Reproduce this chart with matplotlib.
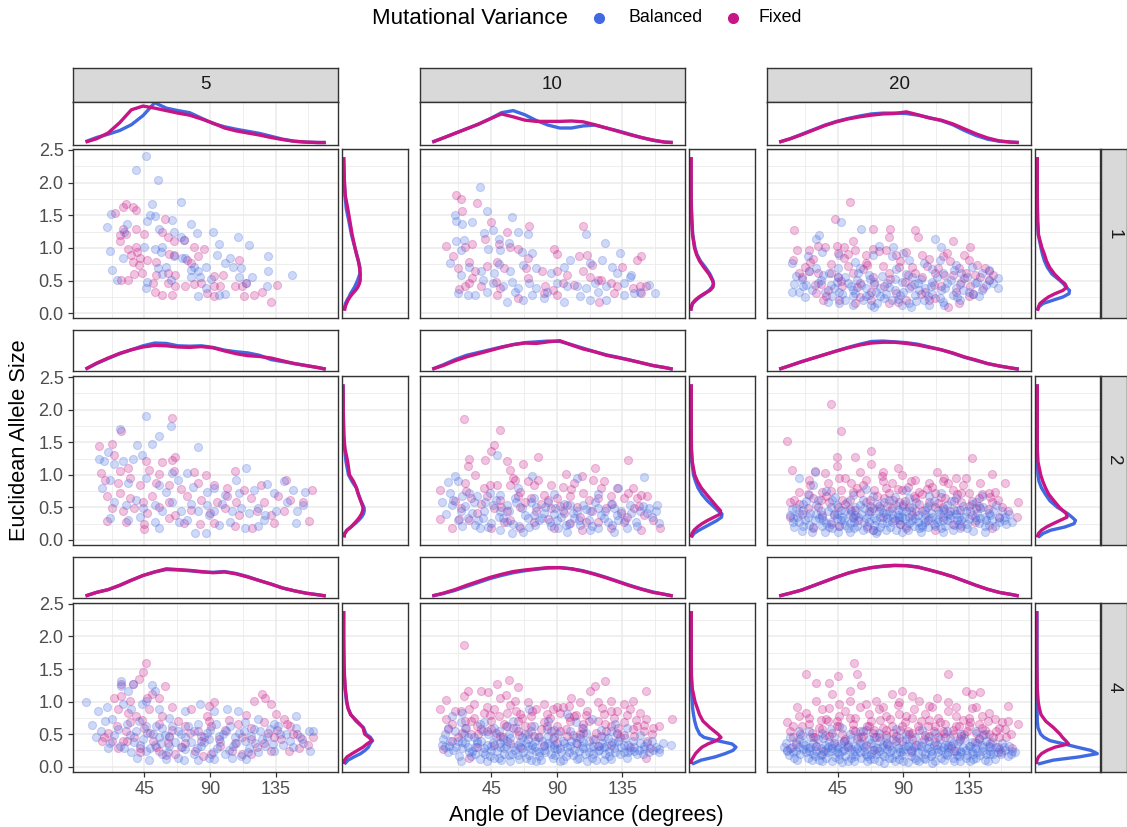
import numpy as np
import matplotlib
matplotlib.use("Agg")
import matplotlib.pyplot as plt
from matplotlib.lines import Line2D

plt.rcParams['font.family'] = ['Liberation Sans', 'DejaVu Sans']

# facet labels
row_labels = ["1", "2", "4"]
col_labels = ["5", "10", "20"]
series_names = ["Balanced", "Fixed"]
x_ticks = [45, 90, 135]
y_ticks = [0.0, 0.5, 1.0, 1.5, 2.0, 2.5]

# scatter points (angle, allele size)
pts_1_5_bal = [(46,2.40),(39,2.20),(54,2.04),(70,1.70),(50,1.67),(22,1.52),(49,1.50),(52,1.49),(47,1.41),(64,1.43),(77,1.37),(33,1.37),(19,1.32),(55,1.29),(65,1.25),(81,1.23),(92,1.25),(70,1.16),(72,1.12),(96,1.06),(109,1.17),(117,1.05),(21,0.95),(31,1.25),(45,1.02),(52,0.99),(57,1.01),(56,0.94),(30,0.84),(23,0.66),(26,0.51),(47,0.48),(46,0.38),(54,0.69),(60,0.71),(71,0.84),(77,0.66),(82,0.64),(87,0.71),(95,0.89),(100,0.77),(104,0.84),(106,0.71),(111,0.69),(110,0.56),(119,0.56),(115,0.47),(130,0.88),(130,0.65),(129,0.42),(146,0.59),(82,0.27),(96,0.28),(100,0.30),(91,0.52),(63,0.51),(57,0.60),(77,0.56),(83,0.56),(79,0.71),(73,0.85),(65,0.87),(87,0.38)]
pts_1_5_fix = [(32,1.67),(25,1.54),(30,1.63),(39,1.58),(37,1.63),(59,1.44),(30,1.29),(39,1.29),(28,1.20),(32,1.21),(45,1.22),(57,1.25),(61,1.16),(65,1.10),(72,1.12),(79,1.01),(86,0.99),(28,1.10),(34,0.99),(39,1.02),(40,0.94),(36,0.89),(42,0.84),(47,0.82),(37,0.79),(41,0.74),(53,0.79),(62,0.91),(65,0.89),(74,0.82),(82,0.87),(77,0.77),(43,0.61),(38,0.60),(53,0.59),(61,0.61),(66,0.59),(29,0.51),(34,0.51),(51,0.46),(61,0.46),(66,0.42),(73,0.41),(79,0.45),(84,0.46),(93,0.57),(99,0.59),(110,0.81),(93,0.42),(97,0.41),(107,0.41),(112,0.41),(115,0.46),(136,0.43),(126,0.33),(120,0.28),(113,0.27),(132,0.17),(52,0.33),(57,0.28),(64,0.28),(88,0.31),(93,0.26)]
pts_1_10_bal = [(37,1.93),(20,1.51),(42,1.56),(21,1.41),(25,1.37),(32,1.39),(59,1.47),(40,1.23),(46,1.27),(63,1.24),(70,1.22),(110,1.22),(123,1.08),(21,1.11),(26,1.12),(50,1.13),(57,1.07),(133,0.93),(24,0.97),(43,0.99),(51,0.97),(66,0.94),(73,0.92),(17,0.77),(24,0.59),(30,0.71),(38,0.64),(50,0.76),(58,0.64),(67,0.74),(76,0.69),(86,0.61),(95,0.71),(99,0.82),(113,0.77),(121,0.82),(128,0.71),(131,0.61),(141,0.59),(39,0.51),(46,0.46),(53,0.41),(59,0.48),(63,0.38),(71,0.46),(76,0.38),(90,0.46),(97,0.41),(104,0.41),(110,0.38),(116,0.46),(118,0.33),(124,0.41),(136,0.46),(140,0.56),(147,0.33),(153,0.43),(157,0.31),(22,0.31),(29,0.28),(34,0.28),(42,0.33),(56,0.18),(67,0.20),(73,0.28),(81,0.23),(95,0.18),(106,0.26),(113,0.20),(124,0.20),(136,0.28),(143,0.31),(61,0.33),(83,0.33),(47,0.61)]
pts_1_10_fix = [(21,1.81),(24,1.75),(35,1.69),(25,1.56),(45,1.40),(56,1.25),(71,1.34),(108,1.34),(14,1.03),(19,0.88),(27,1.02),(32,1.06),(41,1.13),(50,1.06),(58,1.02),(63,0.99),(88,0.98),(90,0.91),(105,0.87),(111,0.89),(148,0.87),(145,0.81),(22,0.69),(30,0.79),(34,0.64),(42,0.72),(49,0.79),(54,0.69),(70,0.84),(69,0.69),(80,0.64),(90,0.64),(97,0.59),(108,0.64),(114,0.74),(135,0.71),(120,0.51),(27,0.41),(32,0.54),(38,0.41),(48,0.48),(51,0.38),(70,0.54),(82,0.41),(87,0.36),(94,0.46),(102,0.43),(113,0.56),(118,0.51),(127,0.46),(131,0.41),(142,0.38),(147,0.41),(151,0.41),(23,0.37),(49,0.28),(63,0.23),(81,0.31),(90,0.28),(119,0.18),(129,0.31),(148,0.31),(30,0.46)]
pts_1_20_bal = [(47,1.40),(61,1.29),(73,1.03),(112,1.13),(32,1.20),(30,1.13),(90,0.93),(83,1.02),(116,1.01),(13,0.77),(16,0.57),(13,0.33),(23,0.43),(24,0.87),(34,0.94),(46,0.89),(57,0.79),(69,0.89),(82,0.87),(94,0.82),(104,0.77),(115,0.82),(126,0.74),(137,0.71),(149,0.66),(155,0.54),(155,0.38),(149,0.51),(25,0.64),(33,0.51),(39,0.61),(44,0.48),(50,0.56),(54,0.41),(58,0.51),(64,0.38),(70,0.48),(74,0.38),(79,0.46),(84,0.36),(89,0.48),(94,0.38),(100,0.46),(105,0.38),(110,0.48),(116,0.36),(120,0.46),(126,0.38),(130,0.48),(139,0.46),(144,0.36),(36,0.33),(41,0.26),(46,0.33),(50,0.20),(57,0.31),(62,0.21),(66,0.28),(72,0.16),(78,0.30),(82,0.20),(88,0.28),(94,0.15),(98,0.28),(104,0.20),(110,0.30),(117,0.18),(124,0.28),(129,0.20),(135,0.33),(142,0.26),(46,0.15),(68,0.13),(89,0.13),(108,0.13),(40,0.43),(66,0.59),(96,0.56),(117,0.61),(21,0.41),(130,0.61),(18,0.33),(144,0.61),(74,0.26),(101,0.36),(55,0.26)]
pts_1_20_bal += [(15,0.45),(20,0.52),(22,0.25),(27,0.35),(31,0.47),(35,0.58),(38,0.18),(42,0.38),(45,0.55),(48,0.29),(52,0.47),(55,0.36),(59,0.62),(61,0.43),(64,0.27),(67,0.52),(71,0.33),(75,0.57),(77,0.23),(80,0.40),(84,0.52),(86,0.22),(90,0.33),(92,0.60),(97,0.45),(99,0.19),(102,0.52),(107,0.27),(109,0.42),(113,0.55),(115,0.24),(119,0.38),(123,0.51),(127,0.25),(131,0.36),(134,0.55),(138,0.30),(141,0.48),(147,0.43),(152,0.47),(60,0.70),(85,0.68),(110,0.68),(45,0.70),(125,0.66),(30,0.70),(70,0.10),(95,0.10),(118,0.12),(55,0.12)]
pts_1_20_fix = [(53,1.71),(43,1.44),(15,1.27),(69,1.29),(81,1.29),(80,1.17),(98,1.28),(100,1.17),(124,1.10),(136,1.01),(132,0.89),(17,0.97),(14,0.82),(22,0.71),(31,1.03),(25,0.97),(36,1.01),(44,1.03),(49,1.01),(55,1.10),(57,0.97),(64,0.89),(69,0.98),(78,0.97),(85,0.89),(92,0.94),(103,0.89),(108,0.83),(117,0.87),(120,0.93),(135,0.82),(141,0.74),(146,0.69),(149,0.64),(128,0.69),(114,0.69),(96,0.71),(87,0.71),(76,0.72),(65,0.74),(52,0.72),(40,0.76),(28,0.83),(18,0.61),(31,0.61),(45,0.56),(55,0.61),(69,0.56),(80,0.61),(93,0.59),(103,0.56),(112,0.61),(124,0.59),(132,0.54),(139,0.59),(149,0.51),(29,0.43),(38,0.36),(48,0.41),(60,0.46),(68,0.33),(77,0.41),(85,0.31),(95,0.41),(105,0.33),(116,0.41),(126,0.33),(136,0.41),(145,0.38),(30,0.31),(46,0.20),(57,0.15),(68,0.21),(80,0.15),(92,0.20),(108,0.21),(121,0.10),(135,0.26),(37,0.26),(64,0.77),(49,0.84),(25,0.64)]
pts_1_20_fix += [(20,0.55),(26,0.78),(33,0.45),(40,0.62),(47,0.50),(52,0.90),(58,0.40),(62,0.68),(70,0.45),(73,0.95),(81,0.52),(88,0.80),(91,0.48),(98,0.62),(102,0.30),(106,0.72),(111,0.44),(118,0.58),(122,0.80),(129,0.45),(133,0.62),(138,0.30),(143,0.55),(152,0.58),(35,0.20),(60,0.25),(86,0.18),(112,0.24),(128,0.16),(45,0.92)]
pts_2_5_bal = [(46,1.91),(63,1.75),(55,1.59),(50,1.48),(40,1.46),(82,1.42),(28,1.70),(20,1.35),(14,1.25),(17,1.21),(24,1.17),(30,1.22),(37,1.24),(43,1.30),(64,1.03),(74,1.03),(115,1.10),(108,0.92),(16,0.80),(21,0.92),(34,0.87),(46,0.95),(55,0.85),(60,0.74),(68,0.92),(78,0.82),(88,0.74),(93,0.80),(100,0.69),(110,0.72),(120,0.77),(129,0.86),(134,0.72),(141,0.90),(147,0.77),(155,0.74),(24,0.59),(32,0.54),(39,0.62),(44,0.49),(52,0.54),(57,0.44),(64,0.59),(70,0.44),(77,0.56),(82,0.44),(88,0.54),(93,0.44),(98,0.56),(105,0.44),(111,0.49),(117,0.41),(123,0.49),(128,0.39),(135,0.44),(143,0.59),(150,0.44),(154,0.54),(21,0.33),(34,0.31),(42,0.36),(55,0.19),(69,0.28),(74,0.31),(80,0.10),(87,0.10),(96,0.23),(104,0.28),(114,0.18),(123,0.21),(127,0.31),(149,0.26),(52,0.28),(89,0.39)]
pts_2_5_fix = [(64,1.88),(29,1.67),(14,1.45),(23,1.48),(24,1.30),(46,1.21),(57,1.20),(64,1.23),(66,1.28),(15,1.03),(28,1.06),(34,1.10),(48,1.08),(55,1.01),(65,1.06),(79,1.04),(87,1.00),(107,1.06),(142,0.92),(18,0.92),(27,0.87),(35,0.95),(42,0.85),(53,0.87),(62,0.85),(70,0.79),(82,0.87),(93,0.85),(102,0.80),(113,0.77),(125,0.85),(19,0.67),(28,0.72),(35,0.64),(44,0.59),(50,0.67),(62,0.59),(74,0.67),(84,0.62),(95,0.59),(102,0.67),(108,0.59),(118,0.64),(127,0.59),(137,0.67),(145,0.62),(160,0.77),(154,0.59),(23,0.49),(30,0.44),(38,0.49),(47,0.41),(55,0.51),(66,0.39),(77,0.46),(90,0.41),(100,0.49),(110,0.39),(122,0.44),(132,0.39),(141,0.44),(19,0.29),(32,0.28),(45,0.24),(62,0.33),(72,0.26),(83,0.24),(93,0.26),(107,0.22),(119,0.18),(134,0.26),(158,0.29),(45,0.17)]
pts_2_10_bal = [(49,1.31),(20,0.98),(15,0.89),(22,0.91),(73,0.98),(104,0.95),(150,0.96),(11,0.59),(17,0.72),(25,0.67),(18,0.54),(24,0.44),(30,0.72),(35,0.67),(41,0.59),(46,0.54),(51,0.69),(56,0.54),(61,0.64),(66,0.49),(72,0.59),(76,0.51),(81,0.41),(84,0.59),(89,0.49),(94,0.44),(99,0.54),(104,0.44),(108,0.54),(113,0.44),(118,0.49),(123,0.44),(129,0.49),(132,0.80),(140,0.54),(147,0.44),(153,0.49),(159,0.54),(29,0.33),(34,0.23),(39,0.33),(45,0.26),(50,0.36),(56,0.28),(59,0.10),(64,0.21),(70,0.33),(75,0.23),(80,0.33),(86,0.21),(90,0.31),(96,0.23),(102,0.33),(106,0.23),(112,0.31),(118,0.18),(122,0.33),(128,0.23),(132,0.31),(138,0.18),(144,0.28),(152,0.41),(160,0.26),(37,0.18),(51,0.15),(67,0.13),(97,0.13),(113,0.15),(129,0.13),(32,0.41),(51,0.44),(74,0.38),(93,0.36),(131,0.39),(25,0.21)]
pts_2_10_bal += [(14,0.40),(19,0.62),(22,0.30),(27,0.52),(33,0.58),(36,0.30),(40,0.45),(43,0.20),(48,0.62),(53,0.33),(57,0.45),(60,0.24),(62,0.58),(68,0.38),(71,0.20),(74,0.65),(78,0.30),(82,0.50),(85,0.27),(88,0.40),(91,0.18),(95,0.55),(98,0.25),(101,0.42),(105,0.30),(110,0.47),(114,0.22),(116,0.58),(120,0.38),(125,0.28),(127,0.55),(134,0.45),(137,0.30),(141,0.42),(145,0.22),(149,0.52),(155,0.35),(158,0.45),(63,0.80),(44,0.72),(88,0.70),(118,0.70)]
pts_2_10_fix = [(26,1.86),(51,1.69),(47,1.46),(45,1.36),(77,1.27),(30,1.24),(56,1.22),(67,1.17),(41,1.23),(139,1.23),(116,1.10),(107,0.99),(29,1.13),(34,1.00),(58,1.08),(61,0.92),(70,0.90),(10,0.77),(27,0.87),(40,0.80),(49,0.85),(58,0.85),(65,0.74),(74,0.85),(86,0.85),(94,0.82),(102,0.87),(115,0.92),(122,0.90),(131,0.80),(142,0.80),(148,0.69),(31,0.64),(42,0.67),(51,0.62),(63,0.67),(72,0.64),(81,0.69),(90,0.64),(99,0.67),(108,0.72),(118,0.64),(127,0.67),(136,0.64),(145,0.64),(24,0.49),(35,0.41),(47,0.49),(56,0.44),(65,0.51),(76,0.44),(86,0.49),(95,0.41),(104,0.51),(114,0.44),(124,0.49),(134,0.41),(143,0.49),(150,0.39),(10,0.32),(18,0.19),(23,0.32),(45,0.19),(54,0.28),(65,0.18),(74,0.28),(88,0.18),(99,0.26),(107,0.15),(118,0.28),(127,0.19),(136,0.28),(148,0.15),(156,0.31),(161,0.18),(97,0.54),(79,0.56)]
pts_2_10_fix += [(20,0.60),(28,0.75),(38,0.55),(44,0.85),(52,0.50),(60,0.95),(68,0.58),(77,0.92),(84,0.62),(92,0.52),(100,0.78),(106,0.35),(112,0.62),(120,0.80),(128,0.55),(139,0.72),(146,0.52),(152,0.68),(30,0.30),(58,0.30),(84,0.32),(110,0.28),(138,0.35),(96,1.02)]
pts_2_20_bal = [(29,1.05),(18,0.95),(12,0.39),(14,0.28),(18,0.28),(21,0.46),(25,0.69),(30,0.54),(32,0.33),(34,0.21),(38,0.44),(40,0.28),(44,0.54),(45,0.13),(48,0.36),(50,0.23),(54,0.44),(56,0.28),(60,0.54),(62,0.15),(64,0.33),(68,0.44),(70,0.23),(72,0.56),(74,0.36),(78,0.15),(80,0.44),(82,0.28),(85,0.54),(87,0.36),(89,0.13),(92,0.44),(94,0.26),(96,0.51),(98,0.33),(101,0.18),(103,0.44),(105,0.28),(108,0.54),(110,0.36),(112,0.21),(114,0.46),(117,0.31),(120,0.54),(122,0.39),(125,0.23),(127,0.46),(130,0.31),(134,0.18),(136,0.44),(140,0.31),(143,0.49),(146,0.36),(149,0.23),(152,0.44),(156,0.28),(160,0.36),(165,0.28),(41,0.62),(55,0.69),(69,0.67),(80,0.62),(94,0.64),(108,0.67),(126,0.64),(140,0.59),(28,0.85),(21,0.56),(25,0.23),(44,0.33),(57,0.39),(63,0.49),(74,0.49),(79,0.28),(89,0.36),(103,0.23),(117,0.13),(128,0.36),(53,0.13),(71,0.10),(146,0.13),(16,0.49)]
pts_2_20_bal += [(13,0.48),(15,0.20),(17,0.36),(20,0.14),(22,0.30),(23,0.60),(26,0.42),(27,0.12),(29,0.30),(31,0.62),(33,0.45),(35,0.30),(36,0.12),(39,0.20),(40,0.50),(42,0.38),(43,0.66),(46,0.22),(47,0.46),(49,0.30),(51,0.58),(52,0.18),(55,0.34),(57,0.50),(58,0.22),(61,0.40),(62,0.62),(65,0.18),(66,0.27),(67,0.52),(70,0.34),(72,0.14),(73,0.45),(75,0.26),(77,0.58),(78,0.40),(81,0.20),(83,0.34),(84,0.66),(86,0.46),(88,0.24),(90,0.55),(91,0.32),(93,0.16),(95,0.44),(97,0.22),(99,0.58),(100,0.38),(102,0.12),(104,0.32),(106,0.50),(107,0.20),(109,0.42),(111,0.60),(113,0.28),(115,0.40),(116,0.18),(118,0.48),(120,0.30),(123,0.60),(124,0.16),(126,0.40),(128,0.25),(131,0.52),(132,0.36),(134,0.24),(137,0.56),(138,0.14),(141,0.42),(142,0.26),(145,0.50),(147,0.30),(150,0.38),(153,0.22),(154,0.54),(158,0.44),(161,0.24),(163,0.40),(37,0.75),(64,0.78),(92,0.76),(116,0.72),(144,0.68),(53,0.40),(86,0.38),(121,0.40)]
pts_2_20_bal += [(14,0.34),(18,0.42),(21,0.22),(24,0.36),(28,0.20),(30,0.40),(34,0.36),(37,0.26),(41,0.18),(44,0.40),(47,0.30),(50,0.44),(53,0.26),(56,0.18),(59,0.36),(63,0.28),(66,0.40),(69,0.16),(71,0.30),(74,0.20),(76,0.42),(79,0.34),(82,0.40),(85,0.16),(87,0.30),(89,0.44),(92,0.22),(94,0.36),(96,0.30),(100,0.28),(103,0.20),(105,0.40),(108,0.34),(111,0.24),(114,0.32),(117,0.44),(119,0.22),(122,0.34),(125,0.46),(127,0.30),(129,0.18),(133,0.44),(135,0.32),(139,0.36),(143,0.34),(146,0.22),(149,0.42),(151,0.30),(156,0.34),(159,0.30)]
pts_2_20_fix = [(40,2.09),(10,1.52),(47,1.67),(68,1.36),(44,1.28),(57,1.27),(44,1.13),(13,1.08),(29,1.06),(137,1.26),(68,1.16),(60,1.05),(86,1.10),(89,1.00),(113,1.05),(151,1.01),(160,0.87),(126,0.95),(121,0.87),(133,0.95),(36,1.03),(50,0.95),(76,0.90),(98,0.92),(108,0.87),(25,0.92),(38,0.87),(54,0.87),(64,0.92),(82,0.87),(93,0.82),(117,0.90),(143,0.87),(153,0.74),(169,0.59),(12,0.59),(18,0.74),(34,0.74),(47,0.77),(60,0.72),(70,0.77),(80,0.72),(89,0.77),(101,0.74),(112,0.72),(124,0.77),(135,0.72),(149,0.72),(158,0.51),(168,0.36),(28,0.64),(39,0.59),(53,0.62),(64,0.59),(77,0.64),(87,0.59),(98,0.64),(108,0.59),(119,0.64),(130,0.59),(142,0.64),(151,0.59),(24,0.49),(45,0.51),(57,0.46),(69,0.49),(82,0.49),(94,0.51),(105,0.46),(117,0.51),(129,0.46),(140,0.49),(34,0.39),(55,0.36),(76,0.36),(96,0.39),(117,0.36),(137,0.39),(28,0.18),(46,0.21),(69,0.15),(92,0.18),(112,0.15),(130,0.21),(151,0.18),(12,0.36),(156,0.36),(76,1.05)]
pts_2_20_fix += [(15,0.62),(20,0.40),(26,0.85),(31,0.50),(37,0.68),(42,0.40),(46,0.95),(50,0.55),(55,0.74),(59,0.30),(62,0.85),(66,0.45),(72,0.68),(75,0.98),(79,0.52),(84,0.30),(86,0.78),(91,0.60),(95,0.90),(99,0.45),(103,0.70),(107,0.30),(110,0.82),(114,0.57),(118,0.95),(122,0.45),(127,0.70),(131,0.85),(135,0.52),(139,0.28),(144,0.70),(148,0.48),(155,0.62),(162,0.45),(40,0.25),(65,0.22),(88,0.24),(124,0.25)]
pts_2_20_fix += [(18,0.55),(24,0.70),(33,0.62),(40,0.75),(48,0.62),(53,0.48),(58,0.80),(67,0.62),(73,0.52),(78,0.80),(83,0.62),(90,0.52),(97,0.68),(101,0.55),(106,0.78),(112,0.50),(116,0.66),(125,0.60),(130,0.72),(137,0.60),(142,0.52),(150,0.66)]
pts_4_5_bal = [(5,0.99),(9,0.64),(13,0.86),(19,0.91),(12,0.45),(20,0.29),(21,0.37),(29,1.32),(29,1.24),(37,1.27),(34,1.17),(50,1.25),(52,1.17),(46,1.01),(23,0.73),(30,0.96),(36,0.88),(43,0.96),(55,0.88),(62,0.75),(73,0.86),(83,0.96),(93,0.86),(102,0.88),(109,0.86),(114,0.68),(123,0.73),(134,0.65),(149,0.78),(149,0.60),(158,0.55),(161,0.55),(159,0.24),(154,0.37),(33,0.65),(39,0.55),(46,0.63),(51,0.50),(57,0.60),(62,0.47),(68,0.55),(73,0.45),(79,0.55),(84,0.47),(90,0.57),(96,0.47),(101,0.55),(107,0.45),(113,0.55),(118,0.47),(124,0.55),(129,0.45),(138,0.50),(145,0.40),(28,0.32),(36,0.22),(42,0.34),(46,0.24),(52,0.34),(57,0.19),(62,0.32),(68,0.14),(73,0.27),(79,0.19),(84,0.32),(89,0.14),(95,0.29),(100,0.19),(106,0.32),(111,0.16),(117,0.29),(123,0.22),(128,0.32),(134,0.24),(140,0.34),(48,0.11),(82,0.11),(105,0.14),(72,0.11),(55,0.45),(89,0.42)]
pts_4_5_bal += [(15,0.55),(18,0.70),(24,0.48),(27,0.58),(31,0.28),(35,0.48),(38,0.38),(41,0.70),(44,0.42),(47,0.52),(49,0.28),(53,0.62),(56,0.36),(59,0.48),(61,0.22),(64,0.62),(66,0.38),(70,0.50),(71,0.30),(75,0.62),(77,0.38),(81,0.28),(82,0.66),(86,0.38),(88,0.52),(92,0.22),(94,0.66),(97,0.38),(99,0.50),(103,0.26),(104,0.62),(108,0.36),(110,0.52),(114,0.40),(116,0.22),(120,0.58),(121,0.36),(126,0.42),(131,0.58),(133,0.35),(137,0.62),(142,0.50),(147,0.30),(152,0.45),(60,0.12),(93,0.12),(115,0.12),(40,0.14)]
pts_4_5_fix = [(46,1.59),(44,1.45),(41,1.34),(37,1.27),(29,1.27),(59,1.24),(50,1.11),(47,1.06),(24,1.06),(29,1.09),(35,1.01),(55,1.06),(64,0.91),(77,0.88),(89,0.93),(93,0.99),(88,0.78),(120,1.01),(126,1.12),(128,1.06),(132,0.96),(135,0.81),(39,0.78),(48,0.88),(34,0.83),(26,0.63),(17,0.45),(23,0.40),(27,0.29),(35,0.68),(45,0.60),(55,0.65),(64,0.57),(73,0.63),(82,0.55),(91,0.63),(100,0.57),(109,0.65),(118,0.60),(127,0.68),(136,0.57),(145,0.63),(141,0.73),(143,0.65),(150,0.50),(161,0.45),(151,0.29),(157,0.34),(33,0.40),(42,0.29),(51,0.40),(62,0.45),(73,0.37),(84,0.40),(96,0.42),(107,0.37),(118,0.42),(127,0.37),(134,0.45),(42,0.22),(55,0.24),(66,0.19),(80,0.24),(91,0.19),(105,0.24),(118,0.19),(132,0.24),(144,0.24),(16,0.40),(30,0.40)]
pts_4_5_fix += [(20,0.52),(27,0.88),(32,0.55),(38,0.46),(43,0.72),(49,0.52),(53,0.30),(57,0.78),(61,0.36),(68,0.70),(70,0.30),(76,0.52),(86,0.45),(89,0.70),(97,0.32),(103,0.72),(112,0.45),(115,0.80),(122,0.30),(130,0.52),(139,0.42),(147,0.50),(153,0.42),(60,0.18),(85,0.16),(112,0.20)]
pts_4_10_bal = [(11,0.34),(13,0.50),(15,0.60),(18,0.78),(25,0.83),(24,0.68),(25,0.29),(29,0.45),(32,0.24),(35,0.37),(39,0.55),(41,0.19),(45,0.32),(48,0.45),(50,0.14),(54,0.29),(57,0.50),(59,0.19),(63,0.34),(66,0.45),(69,0.14),(72,0.27),(75,0.40),(78,0.16),(81,0.32),(84,0.47),(87,0.14),(90,0.27),(94,0.40),(96,0.16),(99,0.32),(103,0.45),(105,0.14),(108,0.29),(112,0.40),(115,0.19),(119,0.32),(122,0.45),(126,0.16),(129,0.29),(132,0.40),(136,0.22),(139,0.34),(143,0.24),(147,0.37),(150,0.27),(160,0.27),(168,0.34),(37,0.65),(56,0.63),(71,0.88),(97,0.81),(114,0.73),(108,0.60),(127,0.55),(138,0.60),(88,0.57),(72,0.55),(47,0.60),(34,0.19),(42,0.09),(58,0.09),(76,0.09),(92,0.09),(111,0.09),(122,0.11),(24,0.09),(51,0.37),(88,0.34),(70,0.32),(124,0.32),(26,0.50)]
pts_4_10_bal += [(12,0.42),(15,0.22),(17,0.40),(20,0.55),(21,0.30),(23,0.17),(27,0.36),(28,0.60),(30,0.22),(33,0.46),(34,0.30),(37,0.12),(38,0.40),(40,0.28),(43,0.50),(44,0.17),(46,0.38),(49,0.24),(50,0.55),(52,0.10),(53,0.42),(55,0.32),(57,0.18),(58,0.44),(61,0.26),(62,0.60),(64,0.12),(65,0.38),(67,0.22),(68,0.50),(70,0.42),(71,0.18),(73,0.34),(74,0.62),(76,0.24),(77,0.46),(79,0.10),(80,0.40),(82,0.22),(83,0.58),(85,0.33),(87,0.42),(89,0.18),(91,0.50),(92,0.28),(94,0.10),(95,0.36),(98,0.22),(99,0.55),(100,0.40),(102,0.26),(104,0.12),(106,0.44),(107,0.32),(109,0.20),(110,0.52),(113,0.30),(114,0.14),(116,0.42),(118,0.24),(120,0.56),(121,0.36),(123,0.20),(125,0.44),(127,0.12),(128,0.38),(130,0.22),(131,0.50),(134,0.30),(137,0.44),(138,0.14),(140,0.26),(142,0.40),(145,0.20),(147,0.48),(150,0.32),(153,0.22),(155,0.40),(158,0.30),(163,0.36),(60,0.70),(84,0.70),(40,0.68),(103,0.68),(130,0.65)]
pts_4_10_bal += [(13,0.30),(16,0.32),(19,0.26),(22,0.40),(25,0.38),(29,0.30),(31,0.16),(35,0.40),(39,0.22),(42,0.34),(45,0.26),(47,0.14),(51,0.30),(54,0.20),(56,0.40),(60,0.30),(63,0.18),(66,0.28),(69,0.36),(72,0.10),(75,0.30),(78,0.22),(81,0.26),(84,0.36),(86,0.20),(88,0.28),(93,0.22),(97,0.30),(101,0.18),(103,0.36),(105,0.24),(108,0.38),(112,0.22),(115,0.32),(117,0.10),(119,0.26),(122,0.30),(126,0.24),(129,0.36),(133,0.20),(136,0.34),(139,0.22),(143,0.30),(146,0.26),(149,0.20),(152,0.36),(156,0.26),(160,0.22)]
pts_4_10_fix = [(26,1.87),(57,1.33),(49,1.27),(63,1.23),(123,1.32),(116,1.24),(113,1.17),(151,1.17),(29,1.17),(38,1.17),(43,1.14),(14,1.02),(10,0.88),(14,0.73),(12,0.27),(18,0.40),(26,1.09),(33,0.96),(51,1.06),(61,1.01),(70,0.99),(81,0.97),(90,0.91),(98,0.93),(106,0.99),(118,0.99),(127,1.01),(136,0.96),(142,1.01),(140,0.88),(151,0.73),(156,0.60),(169,0.74),(150,0.55),(24,0.86),(30,0.88),(40,0.83),(47,0.88),(56,0.83),(65,0.81),(73,0.86),(83,0.81),(92,0.83),(102,0.78),(111,0.86),(122,0.81),(131,0.86),(27,0.70),(35,0.63),(45,0.70),(54,0.65),(63,0.70),(72,0.63),(81,0.68),(90,0.63),(99,0.70),(108,0.65),(118,0.70),(127,0.63),(136,0.68),(145,0.63),(31,0.50),(42,0.55),(51,0.47),(63,0.55),(74,0.47),(86,0.55),(97,0.47),(108,0.52),(120,0.47),(131,0.52),(143,0.47),(152,0.40),(154,0.29),(151,0.14),(30,0.14),(47,0.34),(58,0.37),(81,0.34),(104,0.37),(127,0.34)]
pts_4_10_fix += [(15,0.58),(20,0.85),(22,0.45),(27,0.60),(33,0.75),(36,0.50),(42,0.92),(45,0.58),(50,0.78),(53,0.45),(58,0.95),(60,0.60),(66,0.75),(70,0.50),(76,0.88),(79,0.58),(85,0.75),(88,0.45),(94,0.92),(96,0.58),(103,0.80),(106,0.50),(112,0.70),(115,0.42),(121,0.90),(124,0.55),(129,0.75),(133,0.45),(138,0.80),(142,0.58),(147,0.82),(155,0.50),(160,0.62),(35,0.30),(65,0.30),(90,0.36),(118,0.32),(140,0.30),(55,1.10),(100,1.05)]
pts_4_10_fix += [(18,0.65),(25,0.52),(31,0.70),(38,0.58),(44,0.80),(48,0.52),(55,0.62),(62,0.85),(64,0.48),(68,0.62),(72,0.78),(78,0.45),(83,0.62),(87,0.88),(92,0.55),(98,0.76),(101,0.48),(107,0.60),(110,0.80),(117,0.52),(123,0.66),(127,0.86),(132,0.60),(136,0.48),(144,0.72),(150,0.64)]
pts_4_20_bal = [(9,0.37),(10,0.24),(15,0.14),(18,0.42),(21,0.27),(24,0.14),(28,0.37),(30,0.24),(32,0.11),(36,0.34),(38,0.22),(41,0.09),(44,0.32),(46,0.19),(49,0.40),(52,0.09),(54,0.27),(57,0.16),(60,0.37),(63,0.24),(65,0.09),(69,0.32),(71,0.19),(74,0.40),(77,0.06),(79,0.27),(82,0.14),(85,0.34),(88,0.22),(90,0.09),(94,0.37),(96,0.24),(99,0.11),(102,0.32),(105,0.19),(108,0.40),(110,0.06),(113,0.27),(116,0.14),(119,0.34),(121,0.22),(125,0.09),(127,0.37),(129,0.24),(133,0.14),(135,0.32),(138,0.19),(141,0.37),(144,0.24),(146,0.11),(149,0.32),(152,0.19),(156,0.27),(162,0.16),(165,0.24),(18,0.55),(34,0.52),(53,0.50),(73,0.52),(92,0.50),(112,0.52),(130,0.50),(146,0.50),(48,0.60),(64,0.57),(103,0.57),(34,0.19),(48,0.24),(68,0.19),(90,0.27),(109,0.24),(128,0.16),(150,0.19),(25,0.24),(16,0.24),(79,0.37),(121,0.34),(57,0.32),(41,0.29),(137,0.24)]
pts_4_20_bal += [(8,0.30),(11,0.18),(12,0.46),(13,0.30),(16,0.38),(17,0.10),(19,0.20),(20,0.48),(22,0.34),(23,0.22),(26,0.30),(26,0.46),(27,0.10),(29,0.16),(31,0.42),(33,0.28),(34,0.08),(35,0.44),(37,0.14),(39,0.38),(40,0.24),(42,0.45),(43,0.15),(45,0.28),(47,0.36),(48,0.07),(50,0.16),(51,0.30),(53,0.42),(55,0.20),(56,0.08),(58,0.28),(59,0.45),(61,0.14),(62,0.34),(64,0.20),(66,0.42),(67,0.12),(69,0.26),(70,0.46),(72,0.28),(73,0.09),(75,0.20),(76,0.34),(78,0.44),(80,0.14),(81,0.22),(83,0.42),(84,0.08),(86,0.28),(87,0.44),(89,0.18),(91,0.32),(92,0.42),(93,0.07),(95,0.16),(97,0.30),(98,0.46),(100,0.22),(101,0.08),(103,0.38),(104,0.14),(106,0.28),(107,0.46),(109,0.16),(111,0.34),(112,0.08),(114,0.22),(115,0.42),(117,0.30),(118,0.10),(120,0.18),(122,0.44),(123,0.28),(124,0.14),(126,0.24),(128,0.40),(129,0.08),(131,0.30),(132,0.44),(134,0.18),(136,0.08),(137,0.38),(139,0.28),(140,0.14),(142,0.44),(143,0.18),(145,0.30),(147,0.40),(148,0.08),(150,0.24),(151,0.38),(153,0.12),(154,0.30),(157,0.20),(158,0.36),(160,0.26),(163,0.32),(167,0.22),(25,0.55),(60,0.55),(85,0.58),(120,0.55),(140,0.55),(40,0.58)]
pts_4_20_bal += [(10,0.26),(14,0.22),(18,0.30),(21,0.36),(24,0.28),(28,0.20),(30,0.32),(33,0.18),(36,0.26),(38,0.30),(41,0.34),(44,0.22),(46,0.12),(49,0.26),(52,0.34),(54,0.14),(57,0.24),(60,0.22),(63,0.30),(65,0.16),(68,0.36),(70,0.12),(73,0.24),(75,0.30),(77,0.16),(80,0.32),(82,0.26),(85,0.20),(87,0.12),(90,0.24),(93,0.32),(95,0.26),(98,0.14),(100,0.34),(103,0.24),(105,0.12),(108,0.30),(110,0.20),(113,0.34),(116,0.26),(119,0.20),(121,0.30),(124,0.36),(127,0.18),(130,0.22),(133,0.26),(136,0.32),(138,0.12),(141,0.22),(144,0.34),(147,0.20),(150,0.30),(155,0.22),(159,0.30),(164,0.20)]
pts_4_20_fix = [(56,1.59),(23,1.43),(45,1.40),(58,1.42),(121,1.42),(30,1.29),(39,1.28),(61,1.26),(53,1.17),(41,1.11),(17,0.92),(10,0.68),(18,0.78),(82,1.11),(89,1.17),(96,1.09),(113,1.06),(133,1.17),(143,1.14),(137,1.11),(162,0.93),(162,0.70),(169,0.65),(161,0.45),(165,0.29),(30,1.01),(34,0.88),(46,0.96),(53,1.01),(64,0.96),(71,1.01),(76,0.91),(87,0.99),(101,1.01),(108,0.93),(121,0.99),(126,0.91),(140,0.91),(149,0.83),(153,0.73),(25,0.75),(37,0.73),(46,0.78),(57,0.75),(66,0.81),(78,0.78),(87,0.81),(96,0.75),(105,0.81),(114,0.75),(126,0.78),(135,0.75),(144,0.78),(32,0.60),(44,0.63),(55,0.57),(66,0.63),(78,0.57),(89,0.63),(101,0.57),(112,0.63),(124,0.57),(135,0.63),(146,0.57),(156,0.60),(28,0.45),(39,0.47),(50,0.42),(62,0.47),(73,0.45),(85,0.47),(96,0.42),(108,0.47),(119,0.45),(130,0.47),(142,0.42),(152,0.45),(14,0.45),(12,0.29),(157,0.22),(70,0.57),(93,0.55),(117,0.55)]
pts_4_20_fix += [(12,0.55),(16,0.35),(20,0.62),(23,0.82),(27,0.52),(30,0.32),(33,0.72),(36,0.48),(39,0.90),(42,0.36),(44,0.70),(48,0.50),(50,0.85),(52,0.30),(55,0.65),(58,0.42),(60,0.92),(62,0.55),(64,0.34),(68,0.70),(71,0.46),(73,0.88),(76,0.60),(79,0.35),(81,0.74),(83,0.52),(86,0.95),(89,0.40),(91,0.68),(94,0.50),(97,0.88),(99,0.34),(102,0.70),(105,0.48),(107,0.62),(110,0.92),(112,0.38),(115,0.68),(118,0.52),(121,0.85),(123,0.32),(126,0.62),(129,0.42),(131,0.72),(134,0.55),(137,0.90),(139,0.38),(142,0.66),(145,0.48),(148,0.70),(150,0.36),(154,0.55),(158,0.68),(164,0.50),(35,0.24),(70,0.26),(95,0.22),(125,0.24),(155,0.30)]
pts_4_20_fix += [(14,0.62),(19,0.50),(25,0.66),(29,0.45),(34,0.58),(38,0.70),(41,0.52),(46,0.62),(49,0.40),(53,0.75),(57,0.55),(61,0.45),(65,0.62),(69,0.52),(74,0.72),(78,0.48),(82,0.62),(85,0.40),(88,0.56),(92,0.78),(96,0.52),(100,0.62),(104,0.42),(108,0.72),(111,0.55),(114,0.45),(119,0.66),(124,0.50),(128,0.62),(132,0.50),(136,0.68),(140,0.52),(144,0.60),(149,0.50),(156,0.45),(160,0.58)]

# top marginal densities (relative height) at these angles
xs_top = [4.5, 12, 20, 28, 36, 44, 52, 60, 68, 76, 84, 92, 100, 108, 116, 124, 132, 140, 148, 156, 164, 169.5]
top_1_5_bal = [0.03,0.13,0.21,0.30,0.44,0.66,0.97,0.84,0.78,0.73,0.60,0.47,0.39,0.33,0.28,0.23,0.16,0.09,0.04,0.02,0.01,0.01]
top_1_5_fix = [0.02,0.10,0.24,0.49,0.80,0.89,0.84,0.78,0.72,0.67,0.58,0.48,0.36,0.29,0.24,0.19,0.13,0.08,0.04,0.02,0.01,0.01]
top_1_10_bal = [0.02,0.12,0.23,0.34,0.45,0.58,0.73,0.78,0.68,0.54,0.43,0.36,0.36,0.41,0.43,0.36,0.29,0.21,0.13,0.06,0.02,0.01]
top_1_10_fix = [0.02,0.12,0.23,0.34,0.45,0.58,0.70,0.63,0.55,0.52,0.52,0.52,0.53,0.51,0.44,0.36,0.28,0.20,0.13,0.07,0.02,0.01]
top_1_20_bal = [0.02,0.10,0.21,0.32,0.43,0.52,0.59,0.65,0.70,0.72,0.72,0.71,0.67,0.61,0.54,0.44,0.30,0.18,0.09,0.04,0.02,0.01]
top_1_20_fix = [0.02,0.10,0.20,0.31,0.42,0.51,0.58,0.63,0.67,0.70,0.71,0.75,0.68,0.60,0.55,0.46,0.34,0.22,0.12,0.05,0.02,0.01]
top_2_5_bal = [0.01,0.15,0.28,0.40,0.50,0.60,0.67,0.66,0.60,0.59,0.60,0.56,0.49,0.45,0.42,0.36,0.25,0.20,0.15,0.10,0.05,0.01]
top_2_5_fix = [0.01,0.16,0.29,0.41,0.50,0.57,0.61,0.60,0.57,0.56,0.58,0.55,0.47,0.40,0.35,0.33,0.29,0.22,0.15,0.10,0.05,0.01]
top_2_10_bal = [0.01,0.12,0.25,0.36,0.43,0.50,0.57,0.63,0.68,0.70,0.72,0.71,0.63,0.54,0.45,0.37,0.31,0.24,0.17,0.10,0.05,0.01]
top_2_10_fix = [0.01,0.10,0.22,0.32,0.40,0.48,0.56,0.63,0.67,0.66,0.70,0.73,0.62,0.52,0.45,0.36,0.30,0.24,0.17,0.10,0.05,0.01]
top_2_20_bal = [0.01,0.10,0.20,0.29,0.38,0.47,0.56,0.64,0.71,0.72,0.70,0.68,0.64,0.57,0.50,0.41,0.31,0.23,0.15,0.09,0.04,0.01]
top_2_20_fix = [0.01,0.10,0.20,0.29,0.38,0.47,0.55,0.62,0.67,0.69,0.69,0.66,0.62,0.56,0.50,0.42,0.32,0.24,0.15,0.09,0.04,0.01]
top_4_5_bal = [0.01,0.10,0.17,0.28,0.41,0.53,0.62,0.68,0.67,0.65,0.62,0.61,0.63,0.58,0.50,0.40,0.31,0.21,0.14,0.08,0.04,0.01]
top_4_5_fix = [0.01,0.10,0.17,0.28,0.41,0.53,0.62,0.70,0.68,0.66,0.63,0.60,0.62,0.57,0.49,0.40,0.31,0.21,0.14,0.08,0.04,0.01]
top_4_10_bal = [0.01,0.07,0.15,0.25,0.35,0.45,0.53,0.60,0.65,0.69,0.72,0.73,0.70,0.65,0.57,0.48,0.38,0.28,0.19,0.11,0.05,0.01]
top_4_10_fix = [0.01,0.08,0.17,0.28,0.38,0.48,0.56,0.63,0.67,0.70,0.73,0.73,0.70,0.64,0.56,0.47,0.37,0.27,0.18,0.10,0.05,0.01]
top_4_20_bal = [0.01,0.08,0.16,0.27,0.38,0.49,0.59,0.67,0.73,0.76,0.78,0.78,0.75,0.67,0.59,0.50,0.39,0.28,0.18,0.10,0.05,0.01]
top_4_20_fix = [0.01,0.08,0.16,0.27,0.38,0.49,0.59,0.67,0.73,0.77,0.79,0.78,0.74,0.67,0.59,0.50,0.39,0.28,0.18,0.10,0.05,0.01]

# right marginal densities (width in px) at these allele sizes
ys_side = [0.04, 0.1, 0.15, 0.2, 0.25, 0.3, 0.35, 0.4, 0.45, 0.5, 0.6, 0.7, 0.8, 0.9, 1.0, 1.2, 1.4, 1.6, 1.8, 2.0, 2.2, 2.39]
side_1_5_bal = [2,2.7,3.5,5,7,8.5,10.5,12.5,14,15.5,17.8,18,16.5,14.8,13,9.5,7,4.3,3,2.3,2,1.7]
side_1_5_fix = [2.5,3.3,4.5,6,8,10.5,13.5,15.8,17.3,18.2,18.3,17.5,16.3,14.5,13,10.2,8,5.8,3.3,2.5,2,1.7]
side_1_10_bal = [1.7,2.5,3.8,7,11,16,20,23,24.5,24,21,16.5,11.5,8,6,3.8,3,2.5,2.2,2,2,2]
side_1_10_fix = [1.7,2.5,3.3,6,10,15,21,24,24.5,23.5,20,15,10.5,7.5,5.5,3.5,2.8,2.3,2.2,2.2,2.2,2.2]
side_1_20_bal = [2.3,4,8,18,28,34,34.5,31,28.5,25,17,12.5,9.5,7.5,6,3.3,2.5,2.3,2.3,2.3,2.3,2.3]
side_1_20_fix = [2.3,3.5,5,9,13.5,20,28,31.7,30,26,19.5,14.7,11.5,9.5,7,3.5,2.8,2.5,2.3,2.3,2.3,2.3]
side_2_5_bal = [2,2.7,5,9,13,16.5,19.5,21.5,22.3,22,19,16.5,14.3,10,6.5,4,2.6,1.8,1.5,1.3,1.2,1]
side_2_5_fix = [2,2.7,5,9,12,15,17.5,19.5,20.7,21,18.7,16.3,14.5,11.5,7.5,5.7,3,1.8,1.5,1.3,1.2,1]
side_2_10_bal = [2.3,5,10,16,22,28,32.5,33,29,25.5,18.5,13,9,6.5,4.5,2.8,2.3,2.3,2.3,2.3,2.3,2.3]
side_2_10_fix = [2.3,3,5,8.5,13,18.5,25,31.5,31.5,28.5,23,17.5,12.3,8.5,5.7,3.3,2.5,2.3,2.3,2.3,2.3,2.3]
side_2_20_bal = [3,8,15.7,30,39,40.5,37,33,28,22.5,15,10.5,6.5,4,3,2.3,2.3,2.3,2.3,2.3,2.3,2.3]
side_2_20_fix = [2,3.5,6.5,11.5,18,25,32,31.5,28,24.5,19,13.8,10.5,7.8,5.7,3,2.3,2.3,2.3,2.3,2.3,2.3]
side_4_5_bal = [2.5,6,12,18.5,23,26.5,28,30.5,28.5,24,21.5,14,9,6,4.5,3,2.3,2,1.8,1.7,1.7,1.7]
side_4_5_fix = [1.7,2.5,5,10,15.5,21,25,30,27,22.7,21,15,8.5,6,4.8,3.3,2.5,2,1.8,1.7,1.7,1.7]
side_4_10_bal = [3,12,26,36,44,47,43,28,15,10.7,7.5,5.7,4.5,3.6,3.2,2.5,2.3,2.3,2.3,2.3,2.3,2.3]
side_4_10_fix = [1.7,2.5,4.5,6.5,9.5,13,19,27.3,32,29,21,14,10.5,8.3,6,3.3,2.5,2.3,2.3,2.3,2.3,2.3]
side_4_20_bal = [3,18,44,62.3,56,42,29,15,9,5.7,3,2.3,2.2,2.1,2,2,2,2,2,2,2,2]
side_4_20_fix = [1.3,2,3.5,6.5,12,20,33.5,30.7,27.5,25,18.5,10.7,6,4.3,3.2,2.3,2,1.8,1.7,1.7,1.7,1.7]

points = {
    ("1", "5"): (pts_1_5_bal, pts_1_5_fix), ("1", "10"): (pts_1_10_bal, pts_1_10_fix), ("1", "20"): (pts_1_20_bal, pts_1_20_fix),
    ("2", "5"): (pts_2_5_bal, pts_2_5_fix), ("2", "10"): (pts_2_10_bal, pts_2_10_fix), ("2", "20"): (pts_2_20_bal, pts_2_20_fix),
    ("4", "5"): (pts_4_5_bal, pts_4_5_fix), ("4", "10"): (pts_4_10_bal, pts_4_10_fix), ("4", "20"): (pts_4_20_bal, pts_4_20_fix),
}
tops = {
    ("1", "5"): (top_1_5_bal, top_1_5_fix), ("1", "10"): (top_1_10_bal, top_1_10_fix), ("1", "20"): (top_1_20_bal, top_1_20_fix),
    ("2", "5"): (top_2_5_bal, top_2_5_fix), ("2", "10"): (top_2_10_bal, top_2_10_fix), ("2", "20"): (top_2_20_bal, top_2_20_fix),
    ("4", "5"): (top_4_5_bal, top_4_5_fix), ("4", "10"): (top_4_10_bal, top_4_10_fix), ("4", "20"): (top_4_20_bal, top_4_20_fix),
}
sides = {
    ("1", "5"): (side_1_5_bal, side_1_5_fix), ("1", "10"): (side_1_10_bal, side_1_10_fix), ("1", "20"): (side_1_20_bal, side_1_20_fix),
    ("2", "5"): (side_2_5_bal, side_2_5_fix), ("2", "10"): (side_2_10_bal, side_2_10_fix), ("2", "20"): (side_2_20_bal, side_2_20_fix),
    ("4", "5"): (side_4_5_bal, side_4_5_fix), ("4", "10"): (side_4_10_bal, side_4_10_fix), ("4", "20"): (side_4_20_bal, side_4_20_fix),
}

colors = ["#4169E1", "#C71585"]
edge = "#333333"
grid_c = "#EBEBEB"
XLIM = (-3.9, 177.9)
YLIM = (-0.077, 2.51)

W, H = 1127, 827
fig = plt.figure(figsize=(W / 100, H / 100), dpi=100)


def rect(l, t, r, b):
    return [l / W, 1 - b / H, (r - l) / W, (b - t) / H]


def frame(ax):
    for s in ax.spines.values():
        s.set_color(edge)
        s.set_linewidth(1.0)
    ax.set_axisbelow(True)


col_main = [(73.3, 338), (420, 685), (767, 1031)]
col_side = [(342, 408), (689, 755), (1035, 1100)]
row_main = [(149.3, 318.3), (376.5, 545), (603.3, 771.7)]
row_top = [(101.5, 145), (330, 371.5), (557, 598.3)]

# column strips
for j, cl in enumerate(col_labels):
    l, r = col_main[j]
    sax = fig.add_axes(rect(l, 68.3, r, 101.5))
    sax.set_facecolor("#D9D9D9")
    sax.set_xticks([]); sax.set_yticks([])
    frame(sax)
    sax.text(0.5, 0.5, cl, ha="center", va="center", fontsize=13.5, color="#1A1A1A", transform=sax.transAxes)

# row strips
for i, rl in enumerate(row_labels):
    t, b = row_main[i]
    sax = fig.add_axes(rect(1101, t, 1127, b))
    sax.set_facecolor("#D9D9D9")
    sax.set_xticks([]); sax.set_yticks([])
    frame(sax)
    sax.text(0.5, 0.5, rl, ha="center", va="center", fontsize=13.5, color="#1A1A1A",
             rotation=-90, transform=sax.transAxes)

for i, rl in enumerate(row_labels):
    for j, cl in enumerate(col_labels):
        key = (rl, cl)
        l, r = col_main[j]
        t, b = row_main[i]

        # main scatter
        ax = fig.add_axes(rect(l, t, r, b))
        frame(ax)
        ax.set_xlim(XLIM); ax.set_ylim(YLIM)
        ax.set_xticks(x_ticks); ax.set_xticks([22.5, 67.5, 112.5, 157.5], minor=True)
        ax.set_yticks(y_ticks); ax.set_yticks([0.25, 0.75, 1.25, 1.75, 2.25], minor=True)
        ax.grid(which="major", color=grid_c, lw=1.1)
        ax.grid(which="minor", color=grid_c, lw=0.6)
        ax.tick_params(which="major", length=3.5, color=edge, labelcolor="#4D4D4D", labelsize=13, width=0.9)
        ax.tick_params(which="minor", length=0)
        ax.set_yticklabels([f"{v:.1f}" for v in y_ticks])
        if j > 0:
            ax.tick_params(axis="y", length=0, labelleft=False)
        if i < 2:
            ax.tick_params(axis="x", length=0, labelbottom=False)
        for k in [1, 0]:
            arr = np.array(points[key][k])
            ax.scatter(arr[:, 0], arr[:, 1], s=34, color=colors[k], alpha=0.25,
                       edgecolors=colors[k], linewidths=0.8, zorder=2)

        # top density
        tt, tb = row_top[i]
        tax = fig.add_axes(rect(l, tt, r, tb))
        frame(tax)
        tax.set_xlim(XLIM); tax.set_ylim(-0.05, 1.0)
        tax.set_xticks(x_ticks); tax.set_xticks([22.5, 67.5, 112.5, 157.5], minor=True)
        tax.set_yticks([])
        tax.grid(which="major", axis="x", color=grid_c, lw=1.1)
        tax.grid(which="minor", axis="x", color=grid_c, lw=0.6)
        tax.tick_params(which="both", length=0, labelbottom=False)
        for k in [0, 1]:
            tax.plot(xs_top, tops[key][k], color=colors[k], lw=2.4, solid_capstyle="butt")

        # right density
        sl, sr = col_side[j]
        rax = fig.add_axes(rect(sl, t, sr, b))
        frame(rax)
        rax.set_ylim(YLIM); rax.set_xlim(0, sr - sl)
        rax.set_yticks(y_ticks); rax.set_yticks([0.25, 0.75, 1.25, 1.75, 2.25], minor=True)
        rax.set_xticks([])
        rax.grid(which="major", axis="y", color=grid_c, lw=1.1)
        rax.grid(which="minor", axis="y", color=grid_c, lw=0.6)
        rax.tick_params(which="both", length=0, labelleft=False)
        for k in [0, 1]:
            rax.plot(sides[key][k], ys_side, color=colors[k], lw=2.4, solid_capstyle="butt")

# axis titles
fig.text(586 / W, 1 - 815 / H, "Angle of Deviance (degrees)", ha="center", va="center", fontsize=15.7)
fig.text(20 / W, 1 - 440 / H, "Euclidean Allele Size", ha="center", va="center", fontsize=15.7, rotation=90)

# legend
ly = 1 - 18 / H
fig.text(372 / W, ly, "Mutational Variance", ha="left", va="center", fontsize=16)
for k, (mx, tx) in enumerate([(599, 629), (733, 758)]):
    fig.add_artist(Line2D([mx / W], [ly], marker="o", ls="", color=colors[k], ms=7,
                          transform=fig.transFigure))
    fig.text(tx / W, ly, series_names[k], ha="left", va="center", fontsize=12.8)

fig.savefig("out.png", dpi=100)
